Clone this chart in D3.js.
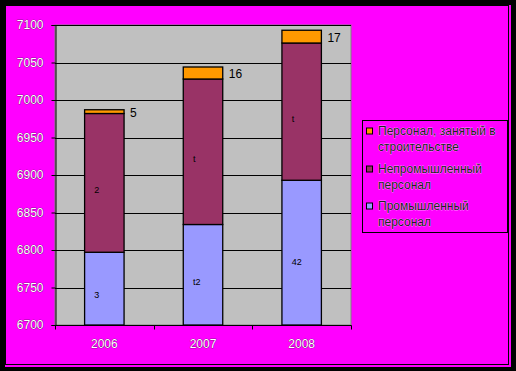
<!DOCTYPE html>
<html><head><meta charset="utf-8">
<script src="https://cdn.jsdelivr.net/npm/d3@7"></script>
<style>body{margin:0;background:#000;}svg{display:block;}</style>
</head><body>
<script>
const years = ["2006", "2007", "2008"];
const industrial = [6797, 6834, 6893];
const nonIndustrial = [185, 194, 183];
const construction = [5, 16, 17];
const innerLabelsNon = ["2", "t", "t"];
const innerLabelsInd = ["3", "t2", "42"];
const seriesNames = ["Персонал, занятый в строительстве", "Непромышленный персонал", "Промышленный персонал"];
const legendLines = [["Персонал, занятый в", "строительстве"], ["Непромышленный", "персонал"], ["Промышленный", "персонал"]];
const yTicks = [6700, 6750, 6800, 6850, 6900, 6950, 7000, 7050, 7100];

(function () {
const W = 516, H = 371;
const svg = d3.select("body").append("svg").attr("width", W).attr("height", H);
svg.append("rect").attr("width", W).attr("height", H).attr("fill", "#000");
svg.append("rect").attr("x", 5).attr("y", 5).attr("width", 506).attr("height", 362).attr("fill", "#FF00FF");
svg.append("rect").attr("x", 5.5).attr("y", 5.5).attr("width", 503).attr("height", 359).attr("fill", "#FF00FF").attr("stroke", "#000").attr("stroke-width", 1);

const pL = 55, pR = 351, pT = 25, pB = 325;
const x = d3.scaleBand().domain(years).range([pL, pR]).padding(0);
const y = d3.scaleLinear().domain([6700, 7100]).range([pB, pT]);

svg.append("rect").attr("x", pL).attr("y", pT).attr("width", pR - pL).attr("height", pB - pT)
  .attr("fill", "#C0C0C0").attr("stroke", "#808080").attr("stroke-width", 1);

svg.append("g").selectAll("line").data(yTicks.slice(1)).join("line")
  .attr("x1", pL).attr("x2", pR)
  .attr("y1", d => Math.round(y(d)) + 0.5).attr("y2", d => Math.round(y(d)) + 0.5)
  .attr("stroke", "#000").attr("stroke-width", 1);

const stackData = years.map((yr, i) => ({year: yr, ind: industrial[i], non: nonIndustrial[i], con: construction[i]}));
const series = d3.stack().keys(["ind", "non", "con"])(stackData);
const colors = {ind: "#9999FF", non: "#993366", con: "#FF9900"};
const bw = x.bandwidth() * 0.4;

series.forEach(s => {
  svg.append("g").selectAll("rect").data(s).join("rect")
    .attr("x", d => x(d.data.year) + (x.bandwidth() - bw) / 2)
    .attr("y", d => y(d[1]))
    .attr("width", bw)
    .attr("height", d => y(Math.max(d[0], 6700)) - y(d[1]))
    .attr("fill", colors[s.key]).attr("stroke", "#000").attr("stroke-width", 1.3);
});

svg.append("g").selectAll("text").data(series[2]).join("text")
  .attr("x", d => x(d.data.year) + (x.bandwidth() + bw) / 2 + 6)
  .attr("y", d => (y(d[0]) + y(d[1])) / 2 + 2)
  .attr("dominant-baseline", "middle")
  .attr("font-family", "Liberation Sans, Arial, sans-serif").attr("font-size", 12).attr("fill", "#000")
  .text((d, i) => construction[i]);

svg.append("g").selectAll("text").data(series[1]).join("text")
  .attr("x", d => x(d.data.year) + x.bandwidth() / 2 - 10)
  .attr("y", d => (y(d[0]) + y(d[1])) / 2 + 10)
  .attr("font-family", "Liberation Sans, Arial, sans-serif").attr("font-size", 9).attr("fill", "#000")
  .text((d, i) => innerLabelsNon[i]);
svg.append("g").selectAll("text").data(series[0]).join("text")
  .attr("x", d => x(d.data.year) + x.bandwidth() / 2 - 10)
  .attr("y", (d, i) => [298, 285, 265][i])
  .attr("font-family", "Liberation Sans, Arial, sans-serif").attr("font-size", 9).attr("fill", "#000")
  .text((d, i) => innerLabelsInd[i]);

const yAxis = d3.axisLeft(y).tickValues(yTicks).tickSize(4).tickPadding(8).tickFormat(d3.format("d"));
const gy = svg.append("g").attr("transform", `translate(${pL + 0.5},0)`).call(yAxis);
gy.select(".domain").attr("stroke", "#000");
gy.selectAll(".tick line").attr("stroke", "#000");
gy.selectAll("text").attr("font-family", "Liberation Sans, Arial, sans-serif").attr("font-size", 12)
  .attr("fill", "#fff").attr("stroke", "#222").attr("stroke-width", 0.45).attr("paint-order", "stroke");

const gx = svg.append("g").attr("transform", `translate(0,${pB + 0.5})`);
gx.append("line").attr("x1", pL).attr("x2", pR + 0.5).attr("stroke", "#000");
gx.selectAll("line.tk").data([...years.map(d => x(d)), pR]).join("line").attr("class", "tk")
  .attr("x1", d => Math.round(d) + 0.5).attr("x2", d => Math.round(d) + 0.5).attr("y1", 0).attr("y2", 4).attr("stroke", "#000");
gx.selectAll("text").data(years).join("text")
  .attr("x", d => x(d) + x.bandwidth() / 2).attr("y", 19)
  .attr("dominant-baseline", "middle").attr("text-anchor", "middle")
  .attr("font-family", "Liberation Sans, Arial, sans-serif").attr("font-size", 12)
  .attr("fill", "#fff").attr("stroke", "#222").attr("stroke-width", 0.45).attr("paint-order", "stroke")
  .text(d => d);

const lg = svg.append("g");
lg.append("rect").attr("x", 362.5).attr("y", 120.5).attr("width", 145).attr("height", 112)
  .attr("fill", "none").attr("stroke", "#000").attr("stroke-width", 1);
const legColors = [colors.con, colors.non, colors.ind];
const itemY = [131.5, 169.5, 206.5];
legendLines.forEach((lines, i) => {
  lg.append("rect").attr("x", 366.5).attr("y", itemY[i] - 3.5).attr("width", 6).attr("height", 6)
    .attr("fill", legColors[i]).attr("stroke", "#000").attr("stroke-width", 1);
  lines.forEach((t, j) => {
    lg.append("text").attr("x", 378).attr("y", itemY[i] + j * 16.5)
      .attr("dominant-baseline", "middle")
      .attr("font-family", "Liberation Sans, Arial, sans-serif").attr("font-size", 12)
      .attr("fill", "#222").attr("stroke", "#fff").attr("stroke-width", 0.4).attr("paint-order", "stroke")
      .text(t);
  });
});
})();
</script>
</body></html>
